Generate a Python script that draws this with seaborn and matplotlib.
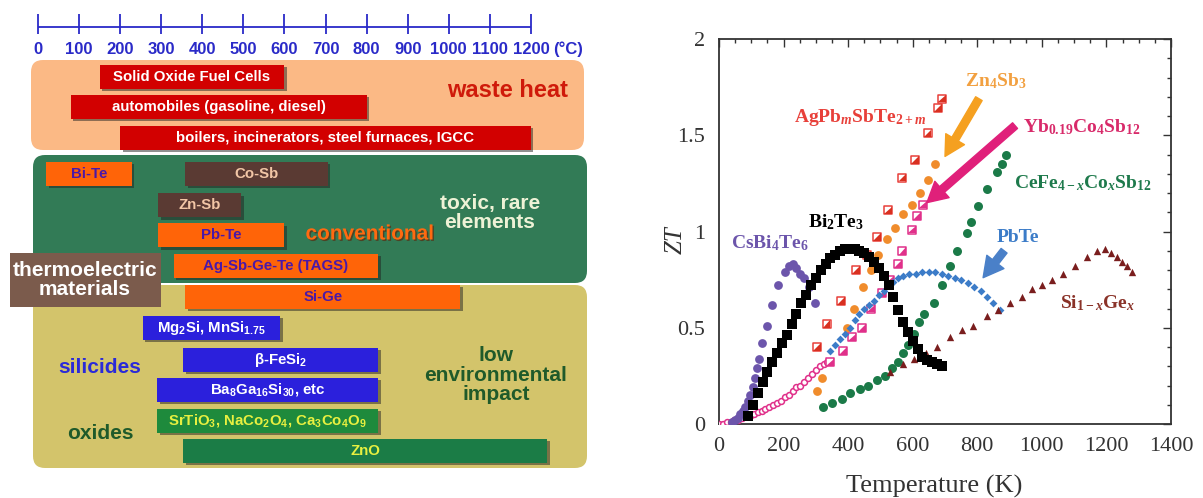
import matplotlib
matplotlib.use("Agg")
import matplotlib.pyplot as plt
import matplotlib.patheffects as pe
from matplotlib.patches import FancyBboxPatch, Rectangle
from matplotlib.ticker import MultipleLocator, FuncFormatter
import seaborn as sns

sns.set_style("white")
plt.rcParams["font.family"] = ["Liberation Sans", "DejaVu Sans"]
plt.rcParams["mathtext.fontset"] = "custom"
plt.rcParams["mathtext.default"] = "regular"
plt.rcParams["mathtext.rm"] = "Liberation Serif"
plt.rcParams["mathtext.it"] = "Liberation Serif:italic:bold"
plt.rcParams["mathtext.bf"] = "Liberation Serif:bold"

# ---------------- temperature ranges (°C) ----------------
scale_ticks = [0, 100, 200, 300, 400, 500, 600, 700, 800, 900, 1000, 1100, 1200]

waste_names = ["Solid Oxide Fuel Cells", "automobiles (gasoline, diesel)",
               "boilers, incinerators, steel furnaces, IGCC"]
waste_start = [150, 80, 200]
waste_end = [600, 800, 1200]

conv_names = ["Bi-Te", "Co-Sb", "Zn-Sb", "Pb-Te", "Ag-Sb-Ge-Te (TAGS)", "Si-Ge"]
conv_start = [20, 358, 293, 293, 330, 358]
conv_end = [228, 705, 495, 600, 828, 1028]

eco_names = [r"Mg$_2$Si, MnSi$_{1.75}$", r"β-FeSi$_2$",
             r"Ba$_8$Ga$_{16}$Si$_{30}$, etc",
             r"SrTiO$_3$, NaCo$_2$O$_4$, Ca$_3$Co$_4$O$_9$", "ZnO"]
eco_start = [255, 353, 290, 290, 353]
eco_end = [590, 828, 828, 828, 1240]

# ---------------- ZT versus temperature (K) ----------------
bi2te3_T = [90, 105, 120, 135, 150, 165, 180, 195, 210, 225, 240, 255, 270, 285, 300,
            315, 330, 345, 360, 375, 390, 405, 420, 435, 450, 465, 480, 495, 510, 525,
            540, 555, 570, 585, 600, 615, 630, 645, 660, 675, 690]
bi2te3_ZT = [0.04, 0.10, 0.16, 0.22, 0.27, 0.32, 0.37, 0.42, 0.46, 0.52, 0.57, 0.63, 0.67,
             0.72, 0.76, 0.80, 0.83, 0.86, 0.88, 0.90, 0.91, 0.91, 0.91, 0.90, 0.89, 0.87,
             0.84, 0.81, 0.77, 0.72, 0.66, 0.59, 0.53, 0.48, 0.43, 0.39, 0.35, 0.33, 0.32,
             0.31, 0.30]

csbi4te6_T = [40, 50, 58, 66, 74, 82, 90, 97, 104, 111, 118, 125, 133, 148, 164, 183,
              205, 218, 228, 240, 252, 264, 280, 297]
csbi4te6_ZT = [0.01, 0.02, 0.03, 0.05, 0.07, 0.09, 0.12, 0.15, 0.19, 0.24, 0.29, 0.34,
               0.42, 0.51, 0.62, 0.72, 0.79, 0.82, 0.83, 0.81, 0.78, 0.76, 0.71, 0.63]

zn4sb3_T = [303, 320, 397, 418, 446, 470, 492, 520, 545, 570, 598, 622, 647, 669]
zn4sb3_ZT = [0.17, 0.24, 0.50, 0.60, 0.71, 0.80, 0.88, 0.96, 1.02, 1.09, 1.14, 1.20, 1.27, 1.35]

agpb_T = [303, 333, 377, 424, 458, 489, 523, 568, 607, 646, 678, 690]
agpb_ZT = [0.40, 0.52, 0.64, 0.80, 0.88, 0.97, 1.11, 1.28, 1.37, 1.51, 1.64, 1.69]

yb_T = [344, 384, 412, 443, 471, 505, 530, 554, 568, 598, 613, 632]
yb_ZT = [0.32, 0.38, 0.45, 0.50, 0.60, 0.68, 0.75, 0.83, 0.90, 1.01, 1.08, 1.14]

yb_low_T = [0, 12, 24, 36, 48, 60, 72, 84, 96, 108, 120, 132, 144, 156, 168, 180, 192,
            204, 216, 228, 240, 252, 264, 276, 288, 300, 312, 324, 336]
yb_low_ZT = [0.00, 0.00, 0.01, 0.01, 0.02, 0.02, 0.03, 0.04, 0.04, 0.05, 0.06, 0.07, 0.08,
             0.09, 0.10, 0.11, 0.12, 0.14, 0.15, 0.17, 0.19, 0.20, 0.22, 0.24, 0.26, 0.28,
             0.30, 0.31, 0.32]

cefe_T = [322, 350, 380, 405, 437, 462, 488, 513, 535, 554, 571, 585, 603, 620, 634, 666,
          692, 714, 738, 768, 780, 802, 830, 860, 875, 889]
cefe_ZT = [0.09, 0.11, 0.13, 0.16, 0.18, 0.20, 0.23, 0.25, 0.29, 0.32, 0.37, 0.41, 0.47,
           0.53, 0.57, 0.63, 0.72, 0.82, 0.90, 0.99, 1.05, 1.13, 1.22, 1.31, 1.35, 1.40]

pbte_T = [345, 360, 375, 390, 405, 420, 435, 450, 465, 480, 495, 510, 525, 540, 555, 570,
          590, 610, 630, 650, 670, 690, 710, 730, 750, 770, 790, 810, 830, 850, 870]
pbte_ZT = [0.38, 0.41, 0.44, 0.47, 0.50, 0.54, 0.57, 0.60, 0.62, 0.64, 0.67, 0.69, 0.72,
           0.74, 0.76, 0.77, 0.78, 0.78, 0.79, 0.79, 0.79, 0.78, 0.77, 0.76, 0.75, 0.73,
           0.71, 0.69, 0.66, 0.63, 0.59]

sige_T = [530, 570, 605, 640, 675, 715, 752, 787, 830, 865, 901, 938, 969, 1000, 1031,
          1066, 1102, 1139, 1170, 1195, 1215, 1232, 1248, 1263, 1278]
sige_ZT = [0.27, 0.31, 0.34, 0.37, 0.40, 0.45, 0.49, 0.51, 0.56, 0.59, 0.63, 0.66, 0.70,
           0.72, 0.75, 0.78, 0.82, 0.87, 0.90, 0.91, 0.89, 0.87, 0.84, 0.82, 0.79]

W, H = 1203, 498
fig = plt.figure(figsize=(W / 100, H / 100), dpi=100)
fig.patch.set_facecolor("white")

# =============== left: application / material temperature map ===============
LW = 601
axL = fig.add_axes([0, 0, LW / W, 1])
PX0, PXK = 38.0, 0.4108          # pixel of 0 °C, pixels per °C
axL.set_xlim(-PX0 / PXK, (LW - PX0) / PXK)
axL.set_ylim(H, 0)
axL.axis("off")


def cx(px):
    return (px - PX0) / PXK


def panel(x0, x1, y0, y1, color, z=1, r=12):
    box = FancyBboxPatch((cx(x0), y0), cx(x1) - cx(x0), y1 - y0,
                         boxstyle=f"round,pad=0,rounding_size={r / PXK}",
                         mutation_aspect=PXK, facecolor=color, edgecolor="none",
                         zorder=z)
    axL.add_patch(box)


panel(31, 584, 60, 150, "#fbb985")
panel(33, 587, 155, 283, "#327b56")
panel(33, 587, 285, 468, "#d3c46b")
axL.add_patch(Rectangle((cx(10), 253), cx(161) - cx(10), 54,
                        facecolor="#7b5b4c", edgecolor="none", zorder=2))

# blue temperature scale
blue = "#2a2ac8"
axL.hlines(27, scale_ticks[0], scale_ticks[-1], color=blue, lw=1.3, zorder=3)
axL.vlines(scale_ticks, 14, 34, color=blue, lw=1.3, zorder=3)
for t in scale_ticks:
    axL.text(t, 49, str(t), ha="center", va="center", color=blue,
             fontsize=12, fontweight="bold")
axL.text(cx(568), 49, "(°C)", ha="center", va="center", color=blue,
         fontsize=12, fontweight="bold")

shadow = [pe.SimplePatchShadow(offset=(1.8, -1.8), shadow_rgbFace="#222222",
                               alpha=0.5), pe.Normal()]


def bar_rows(names, starts, ends, ys, colors, tcolors, h=24):
    bars = axL.barh(ys, [e - s for s, e in zip(starts, ends)], left=starts,
                    height=h, color=colors, edgecolor="none", zorder=4)
    for b in bars:
        b.set_path_effects(shadow)
    for n, s, e, y, tc in zip(names, starts, ends, ys, tcolors):
        axL.text((s + e) / 2, y, n, ha="center", va="center", color=tc,
                 fontsize=10.8, fontweight="bold", zorder=5)


bar_rows(waste_names, waste_start, waste_end, [76.5, 106.5, 137.5],
         ["#d20000"] * 3, ["white"] * 3)
bar_rows(conv_names, conv_start, conv_end, [173.5, 173.5, 205, 235, 265.5, 296.5],
         ["#ff6408", "#5a3a33", "#5a3a33", "#ff6408", "#ff6408", "#ff6408"],
         ["#4a18a8", "#f2c6a6", "#f2c6a6", "#4a18a8", "#4a18a8", "#4a18a8"])
bar_rows(eco_names, eco_start, eco_end, [327.5, 359.5, 389.5, 420.5, 450.5],
         ["#2b20dc", "#2b20dc", "#2b20dc", "#1e8a3c", "#1b7c46"],
         ["white", "white", "white", "#e8f040", "#e8f040"])

axL.text(cx(508), 90, "waste heat", ha="center", va="center", color="#cf1a0a",
         fontsize=17, fontweight="bold")
axL.text(cx(370), 234, "conventional", ha="center", va="center", color="#ff6a10",
         fontsize=15, fontweight="bold",
         path_effects=[pe.SimplePatchShadow(offset=(1, -1), shadow_rgbFace="#5a2a10",
                                            alpha=0.7), pe.Normal()])
axL.text(cx(490), 213, "toxic, rare\nelements", ha="center", va="center",
         color="#eef2d6", fontsize=15, fontweight="bold", linespacing=1.05)
axL.text(cx(85), 280, "thermoelectric\nmaterials", ha="center", va="center",
         color="white", fontsize=15, fontweight="bold", linespacing=1.0, zorder=3)
axL.text(cx(100), 367, "silicides", ha="center", va="center", color="#2a2ad8",
         fontsize=15, fontweight="bold")
axL.text(cx(100), 433, "oxides", ha="center", va="center", color="#1f5a2a",
         fontsize=15, fontweight="bold")
axL.text(cx(496), 375, "low\nenvironmental\nimpact", ha="center", va="center",
         color="#1f5a2a", fontsize=15, fontweight="bold", linespacing=1.05)

# =============== right: ZT of thermoelectric materials ===============
axR = fig.add_axes([719 / W, (H - 424) / H, 452 / W, 385 / H])
serif = "Liberation Serif"

tri = [(-1, -1), (1, -1), (1, 1)]   # lower-right half of a square

sns.scatterplot(x=yb_low_T, y=yb_low_ZT, ax=axR, marker="o", s=18, color="white",
                edgecolor="#e0308a", linewidth=1.1, zorder=3)
sns.scatterplot(x=csbi4te6_T, y=csbi4te6_ZT, ax=axR, marker="o", s=40,
                color="#6c55ab", edgecolor="#6c55ab", linewidth=0, zorder=3)
sns.scatterplot(x=bi2te3_T, y=bi2te3_ZT, ax=axR, marker="s", s=44, color="black",
                edgecolor="black", linewidth=0, zorder=4)
sns.scatterplot(x=zn4sb3_T, y=zn4sb3_ZT, ax=axR, marker="o", s=40, color="#f08c2c",
                edgecolor="#f08c2c", linewidth=0, zorder=3)
sns.scatterplot(x=agpb_T, y=agpb_ZT, ax=axR, marker="s", s=30, color="white",
                edgecolor="#e8403a", linewidth=1.1, zorder=3)
sns.scatterplot(x=agpb_T, y=agpb_ZT, ax=axR, marker=tri, s=30, color="#d83020",
                edgecolor="none", linewidth=0, zorder=3)
sns.scatterplot(x=yb_T, y=yb_ZT, ax=axR, marker="s", s=30, color="white",
                edgecolor="#e0308a", linewidth=1.1, zorder=3)
sns.scatterplot(x=yb_T, y=yb_ZT, ax=axR, marker=tri, s=30, color="#e0308a",
                edgecolor="none", linewidth=0, zorder=3)
sns.scatterplot(x=cefe_T, y=cefe_ZT, ax=axR, marker="o", s=42, color="#1b7a48",
                edgecolor="#1b7a48", linewidth=0, zorder=3)
sns.scatterplot(x=pbte_T, y=pbte_ZT, ax=axR, marker="D", s=16, color="#3c7cc8",
                edgecolor="#3c7cc8", linewidth=0, zorder=3)
sns.scatterplot(x=sige_T, y=sige_ZT, ax=axR, marker="^", s=28, color="#7a1e1e",
                edgecolor="#7a1e1e", linewidth=0, zorder=3)

axR.set_xlim(0, 1400)
axR.set_ylim(0, 2)
axR.xaxis.set_major_locator(MultipleLocator(200))
axR.xaxis.set_minor_locator(MultipleLocator(50))
axR.yaxis.set_major_locator(MultipleLocator(0.5))
axR.yaxis.set_minor_locator(MultipleLocator(0.1))
axR.yaxis.set_major_formatter(FuncFormatter(lambda v, p: f"{v:g}"))
axR.tick_params(which="both", direction="in", top=True, right=True,
                color="#333333", width=1.0)
axR.tick_params(which="major", length=6, labelsize=16, labelcolor="#333333",
                labelfontfamily=serif)
axR.tick_params(which="minor", length=3)
axR.tick_params(axis="x", which="major", pad=9)
axR.tick_params(axis="y", which="major", pad=10)
for sp in axR.spines.values():
    sp.set_color("#333333")
    sp.set_linewidth(1.3)

axR.set_xlabel("Temperature (K)", fontsize=19, family=serif, color="#333333")
axR.set_ylabel("ZT", fontsize=18, family=serif, style="italic", color="#333333")
axR.xaxis.set_label_coords((934 - 719) / 452, (424 - 486) / 385)
axR.yaxis.set_label_coords((676 - 719) / 452, (424 - 240) / 385)
axR.yaxis.label.set_va("center")
axR.xaxis.label.set_va("center")

lab = dict(family=serif, fontweight="bold", fontsize=14, ha="center", va="center")
axR.text(858, 1.78, r"Zn$_4$Sb$_3$", color="#f2a040", **lab)
axR.text(437, 1.59, r"AgPb$_{\mathit{m}}$SbTe$_{2+\mathit{m}}$", color="#e8403a", **lab)
axR.text(1124, 1.54, r"Yb$_{0.19}$Co$_4$Sb$_{12}$", color="#d82a6a", **lab)
axR.text(1127, 1.25, r"CeFe$_{4-\mathit{x}}$Co$_{\mathit{x}}$Sb$_{12}$", color="#1e7a4c", **lab)
axR.text(362, 1.05, r"Bi$_2$Te$_3$", color="black", **lab)
axR.text(158, 0.94, r"CsBi$_4$Te$_6$", color="#6c55ab", **lab)
axR.text(926, 0.97, "PbTe", color="#3c7cc8", **lab)
axR.text(1171, 0.63, r"Si$_{1-\mathit{x}}$Ge$_{\mathit{x}}$", color="#8a3228", **lab)

arrow = "simple,head_width=1.3,head_length=1.2,tail_width=0.45"
for (x0, y0), (x1, y1), c in [((805, 1.69), (700, 1.39), "#f5a020"),
                              ((917, 1.55), (644, 1.15), "#e0207a"),
                              ((883, 0.90), (818, 0.76), "#4a80c8")]:
    axR.annotate("", xy=(x1, y1), xytext=(x0, y0),
                 arrowprops=dict(arrowstyle=arrow, color=c, mutation_scale=12,
                                 shrinkA=0, shrinkB=0), zorder=5)

fig.savefig("out.png", dpi=100, facecolor="white")
